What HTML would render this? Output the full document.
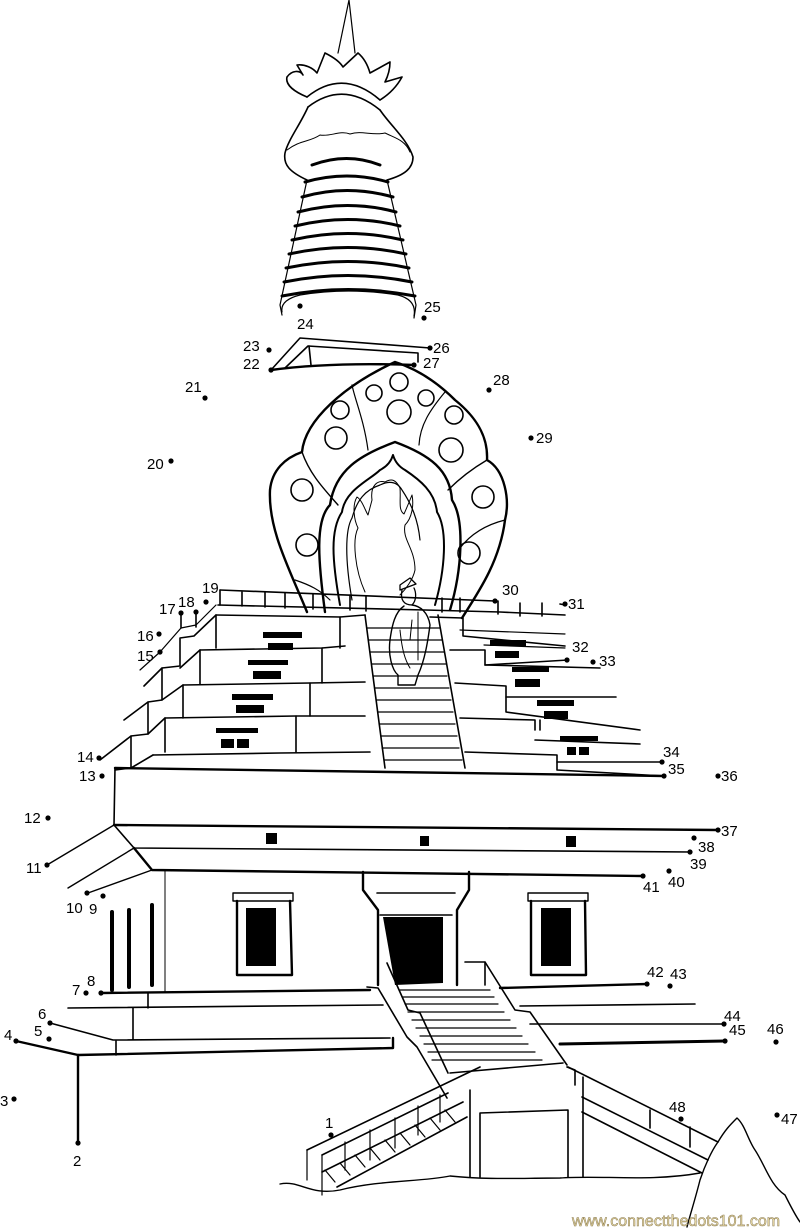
<!DOCTYPE html>
<html><head><meta charset="utf-8"><style>
html,body{margin:0;padding:0;background:#fff}
svg{display:block}
text{font-family:"Liberation Sans",sans-serif;font-size:15px;fill:#000}
</style></head><body>
<svg width="800" height="1230" viewBox="0 0 800 1230" xmlns="http://www.w3.org/2000/svg">
<g fill="none" stroke="#000" stroke-width="1.6" stroke-linejoin="round" stroke-linecap="round">
<!-- spire -->
<path d="M338,53 L349,0 L355,53" stroke-width="1.2"/>
<path d="M307,97 C295,92 285,85 287,77 C292,70 300,70 303,75 L297,65 C305,64 313,68 317,73 L325,53 C333,57 340,62 343,67 L358,53 C364,58 368,66 370,73 L390,62 C390,70 388,76 385,82 L402,77 C396,88 388,95 380,100"/>
<path d="M307,97 Q343,68 380,100"/>
<path d="M308,107 Q343,80 380,110"/>
<path d="M308,107 C300,125 288,140 285,153 C283,165 290,172 307,180"/>
<path d="M380,110 C390,125 408,140 413,157 C413,168 405,175 387,180"/>
<path d="M287,150 C300,140 310,142 320,135 C330,137 340,130 350,134 C362,130 372,136 385,133 C395,138 405,140 410,152" stroke-width="1"/>
<!-- cone -->
<path d="M307,180 L280,305 L282,315" stroke-width="1.2"/>
<path d="M387,180 L416,305 L414,318" stroke-width="1.2"/>
<g stroke-width="3">
<path d="M312,165 Q347,152 380,165"/>
<path d="M305,182 Q347,170 388,182"/>
<path d="M302,197 Q347,184 393,197"/>
<path d="M298,212 Q348,199 396,212"/>
<path d="M295,226 Q348,213 400,226"/>
<path d="M292,240 Q348,227 403,240"/>
<path d="M289,254 Q348,241 406,254"/>
<path d="M286,268 Q348,255 409,268"/>
<path d="M284,282 Q348,269 412,282"/>
<path d="M282,296 Q348,283 415,296"/>
</g>
<path d="M282,312 Q280,300 300,295 Q348,287 398,295 Q417,300 414,316" stroke-width="1.2"/>
<!-- platform 22-27 -->
<path d="M271,370 L300,338 L430,348"/>
<path d="M285,368 L308,346 L418,353 L418,362"/>
<path d="M309,346 L311,365"/>
<path d="M271,370 Q330,362 414,365" stroke-width="2.4"/>
<!-- dome -->
<path d="M307,612 C290,570 268,530 270,490 C272,470 285,458 302,452 C305,420 345,385 395,362 C420,370 440,385 455,400 C480,420 488,440 487,460 C505,470 510,500 505,520 C500,560 480,590 462,618" stroke-width="2.4"/>
<path d="M302,452 C310,475 325,490 338,505" stroke-width="1.4"/>
<path d="M487,460 C470,470 458,480 448,490" stroke-width="1.4"/>
<path d="M352,385 C355,400 364,420 368,450" stroke-width="1.2"/>
<path d="M445,392 C430,410 420,425 419,445" stroke-width="1.2"/>
<path d="M295,580 C310,585 320,590 330,600" stroke-width="1.2"/>
<path d="M505,520 C485,525 470,535 460,548" stroke-width="1.2"/>
<!-- niche arches -->
<path d="M325,612 C318,560 315,520 330,505 C335,470 360,455 395,442 C430,455 450,470 452,500 C465,520 462,570 450,610" stroke-width="2.4"/>
<path d="M340,605 C332,560 330,530 342,512 C345,490 370,480 380,470 Q390,465 393,455 Q396,465 405,470 C420,480 435,492 437,512 C448,530 445,570 435,605" stroke-width="2"/>
<path d="M352,600 C345,560 345,530 352,518 C357,500 365,490 380,485 Q395,478 402,490 C412,505 418,520 420,540" stroke-width="1.2"/>
<!-- buddha -->
<path d="M365,592 C355,570 352,540 358,528 C354,520 352,505 357,497 C362,500 365,510 368,515 L372,500 C370,485 378,480 385,482 C392,478 396,480 400,488 C401,500 398,510 404,514 C408,505 410,500 412,495 C414,505 412,518 405,525 C402,540 415,548 415,570 C413,580 405,590 400,595" stroke-width="1"/>
<!-- monk -->
<path d="M400,585 L410,578 L416,584 L400,590 Z M402,590 C400,600 404,605 412,605 C417,600 416,592 414,588" stroke-width="1.3"/>
<path d="M404,606 C395,612 392,625 390,640 C388,655 392,670 398,675 L398,685 L415,685 L418,675 C425,660 428,640 430,625 C428,612 420,606 412,605" stroke-width="1.4"/>
<path d="M412,620 L410,640 M418,612 L418,660 M400,630 C402,650 405,660 410,668" stroke-width="1"/>
<!-- terrace top railing -->
<path d="M220,590 L495,601 M560,604 L565,605"/>
<path d="M218,605 L425,610 L500,612 L565,615" />
<path d="M220,590 L220,605 M242,592 L242,606 M265,592 L265,607 M285,593 L285,608 M313,594 L313,609 M350,595 L350,610 M366,596 L366,611 M442,598 L442,612 M460,598 L460,612 M498,601 L498,614 M520,603 L520,616 M542,603 L542,616"/>
<path d="M460,630 L565,634 M484,645 L565,648" stroke-width="1.2"/>
<!-- left tiers -->
<path d="M216,615 L340,617 L365,615"/>
<path d="M216,615 L216,648 M200,650 L322,648 L345,646"/>
<path d="M200,650 L200,684 M183,685 L310,683 L365,682"/>
<path d="M183,685 L183,718 M165,718 L296,716 L365,716"/>
<path d="M165,718 L165,752 M153,755 L280,753 L370,752"/>
<path d="M216,605 L196,625 L181,628 L160,652 L140,670" stroke-width="1.2"/>
<path d="M216,615 L194,636 L180,638 L180,666 L162,668 L144,686" />
<path d="M200,650 L180,668 M162,668 L162,700 L148,702 L124,720"/>
<path d="M183,685 L162,700 M148,702 L148,734 L131,736 L100,760"/>
<path d="M165,718 L148,734 M131,736 L131,768 L115,770"/>
<path d="M153,755 L131,768"/>
<path d="M181,613 L181,628 M196,612 L196,627"/>
<path d="M340,617 L340,648 M322,648 L322,683 M310,683 L310,716 M296,716 L296,752"/>
<!-- right tiers -->
<path d="M430,617 L463,618 L463,636 L565,646"/>
<path d="M450,650 L485,650 L485,665 L568,660 "/>
<path d="M485,665 L600,668 M455,683 L506,686 L506,697 L616,697"/>
<path d="M506,697 L506,712 L640,730 M460,718 L535,720 L535,730 M535,740 L640,744"/>
<path d="M465,752 L557,755 L557,762 L662,762"/>
<path d="M557,762 L557,770 L664,776"/>
<path d="M540,730 L540,720" />
<!-- center stairs -->
<path d="M365,615 L385,768 M438,615 L465,768" />
<g stroke-width="1.2">
<path d="M367,628 L440,628 M369,640 L442,640 M370,652 L444,652 M372,664 L446,664 M373,676 L447,676 M375,688 L449,688 M376,700 L451,700 M378,712 L453,712 M379,724 L455,724 M381,736 L457,736 M382,748 L459,748 M384,760 L462,760"/>
</g>
<!-- main block -->
<path d="M115,768 L665,776" stroke-width="2.4"/>
<path d="M115,768 L114,825"/>
<path d="M114,825 L718,830" stroke-width="2.4"/>
<path d="M114,825 L134,848 L690,852"/>
<path d="M134,848 L152,870 L643,876" stroke-width="2.4"/>
<path d="M114,825 L47,865 M134,848 L68,888 M152,870 L88,893" stroke-width="1.4"/>
<path d="M165,870 L165,992" stroke-width="1"/>
<!-- bars -->
<path d="M112,912 L112,990 M129,910 L129,987 M152,905 L152,985" stroke-width="4"/>
<!-- windows -->
<rect x="233" y="893" width="60" height="8" stroke-width="1.4"/>
<path d="M237,901 L237,975 L292,975 L290,901" stroke-width="2.4"/>
<rect x="528" y="893" width="60" height="8" stroke-width="1.4"/>
<path d="M531,901 L531,975 L586,975 L585,901" stroke-width="2.4"/>
<!-- door -->
<path d="M363,872 L363,890 L378,910 L378,985 M469,872 L469,890 L457,910 L457,985" stroke-width="2.4"/>
<path d="M377,893 L455,893"/>
<path d="M380,915 L452,915"/>
<!-- base -->
<path d="M101,993 L370,990" stroke-width="2.4"/>
<path d="M68,1008 L383,1005 M148,993 L148,1008"/>
<path d="M50,1023 L113,1040 L390,1038 M133,1008 L133,1040"/>
<path d="M16,1041 L78,1055 L393,1048 M393,1038 L393,1048" stroke-width="2.4"/>
<path d="M116,1041 L116,1055"/>
<path d="M78,1055 L78,1143" stroke-width="2.4"/>
<path d="M500,988 L647,984" stroke-width="2.4"/>
<path d="M520,1006 L695,1004 M530,1024 L724,1024"/>
<path d="M560,1044 L725,1041" stroke-width="3"/>
<!-- central stairs -->
<path d="M387,963 L408,1010 L420,1013 L448,1073" />
<path d="M367,987 L378,988 L407,1037 L417,1047 L447,1098" />
<path d="M465,962 L485,962 L515,1010 L530,1012 L567,1065"/>
<path d="M485,962 L485,985"/>
<g stroke-width="1.2">
<path d="M400,990 L490,990 M402,997 L494,997 M405,1004 L498,1004 M408,1012 L504,1012 M412,1020 L510,1020 M416,1028 L516,1028 M420,1036 L522,1036 M424,1044 L528,1044 M428,1052 L535,1052 M432,1060 L542,1060"/>
</g>
<path d="M450,1073 L563,1063"/>
<!-- lower left stair -->
<path d="M307,1150 L480,1067 M322,1155 L448,1093 M337,1187 L467,1117 M322,1172 L463,1102"/>
<path d="M307,1150 L307,1180 M322,1155 L322,1195 M345,1142 L345,1170 M370,1130 L370,1160 M395,1118 L395,1148 M418,1106 L418,1135 M440,1095 L440,1122" stroke-width="1.2"/>
<g stroke-width="1.2"><path d="M325,1170 L335,1182 M340,1163 L350,1175 M355,1155 L365,1167 M370,1148 L380,1160 M385,1140 L395,1152 M400,1133 L410,1145 M415,1125 L425,1137 M430,1118 L440,1130 M445,1110 L455,1122"/></g>
<path d="M470,1090 L470,1177 M480,1113 L568,1110 M480,1113 L480,1177 M568,1110 L568,1177 M583,1077 L583,1177 M567,1067 L575,1070 L575,1085"/>
<!-- right slope -->
<path d="M568,1067 L718,1142" stroke-width="1.6"/>
<path d="M582,1097 L708,1160 M582,1112 L702,1173"/>
<path d="M650,1110 L650,1128 M690,1127 L690,1147"/>
<!-- ground -->
<path d="M280,1184 C300,1180 310,1196 340,1190 C380,1180 420,1182 450,1176 C490,1180 520,1178 560,1178 C600,1175 650,1182 700,1173" stroke-width="1.4"/>
<!-- mountain -->
<path d="M687,1227 C690,1215 695,1200 700,1180 C705,1165 712,1150 718,1142 C725,1130 730,1125 737,1118 C745,1125 748,1140 755,1150 C765,1165 770,1185 785,1195 C790,1205 795,1215 800,1222" stroke-width="1.4"/>
</g>
<!-- circles -->
<g fill="none" stroke="#000" stroke-width="1.6">
<circle cx="340" cy="410" r="9"/><circle cx="336" cy="438" r="11"/><circle cx="374" cy="393" r="8"/>
<circle cx="399" cy="382" r="9"/><circle cx="399" cy="412" r="12"/><circle cx="426" cy="398" r="8"/>
<circle cx="454" cy="415" r="9"/><circle cx="451" cy="450" r="12"/><circle cx="302" cy="490" r="11"/>
<circle cx="483" cy="497" r="11"/><circle cx="307" cy="545" r="11"/><circle cx="469" cy="553" r="11"/>
</g>
<!-- black fills -->
<g fill="#000">
<rect x="263" y="632" width="39" height="6"/><rect x="268" y="643" width="25" height="7"/>
<rect x="248" y="660" width="40" height="5"/><rect x="253" y="671" width="28" height="8"/>
<rect x="232" y="694" width="41" height="6"/><rect x="236" y="705" width="28" height="8"/>
<rect x="216" y="728" width="42" height="5"/><rect x="221" y="739" width="13" height="9"/><rect x="237" y="739" width="12" height="9"/>
<rect x="490" y="640" width="36" height="6"/><rect x="495" y="651" width="24" height="7"/>
<rect x="512" y="667" width="37" height="5"/><rect x="515" y="679" width="25" height="8"/>
<rect x="537" y="700" width="37" height="6"/><rect x="544" y="711" width="24" height="8"/>
<rect x="560" y="736" width="38" height="5"/><rect x="567" y="747" width="9" height="8"/><rect x="579" y="747" width="10" height="8"/>
<rect x="266" y="833" width="11" height="11"/><rect x="420" y="836" width="9" height="10"/><rect x="566" y="836" width="10" height="11"/>
<rect x="246" y="908" width="30" height="58"/><rect x="541" y="908" width="30" height="58"/>
<path d="M383,917 L443,917 L443,983 L395,985 Z"/>
</g>
<!-- dots -->
<g fill="#000">
<circle cx="331" cy="1135" r="2.6"/><circle cx="78" cy="1143" r="2.6"/><circle cx="14" cy="1099" r="2.6"/>
<circle cx="16" cy="1041" r="2.6"/><circle cx="49" cy="1039" r="2.6"/><circle cx="50" cy="1023" r="2.6"/>
<circle cx="86" cy="993" r="2.6"/><circle cx="101" cy="993" r="2.6"/><circle cx="103" cy="896" r="2.6"/>
<circle cx="87" cy="893" r="2.6"/><circle cx="47" cy="865" r="2.6"/><circle cx="48" cy="818" r="2.6"/>
<circle cx="102" cy="776" r="2.6"/><circle cx="99" cy="758" r="2.6"/><circle cx="160" cy="652" r="2.6"/>
<circle cx="159" cy="634" r="2.6"/><circle cx="181" cy="613" r="2.6"/><circle cx="196" cy="612" r="2.6"/>
<circle cx="206" cy="602" r="2.6"/><circle cx="171" cy="461" r="2.6"/><circle cx="205" cy="398" r="2.6"/>
<circle cx="271" cy="370" r="2.6"/><circle cx="269" cy="350" r="2.6"/><circle cx="300" cy="306" r="2.6"/>
<circle cx="424" cy="318" r="2.6"/><circle cx="430" cy="348" r="2.6"/><circle cx="414" cy="365" r="2.6"/>
<circle cx="489" cy="390" r="2.6"/><circle cx="531" cy="438" r="2.6"/><circle cx="495" cy="601" r="2.6"/>
<circle cx="565" cy="604" r="2.6"/><circle cx="567" cy="660" r="2.6"/><circle cx="593" cy="662" r="2.6"/>
<circle cx="662" cy="762" r="2.6"/><circle cx="664" cy="776" r="2.6"/><circle cx="718" cy="776" r="2.6"/>
<circle cx="718" cy="830" r="2.6"/><circle cx="694" cy="838" r="2.6"/><circle cx="690" cy="852" r="2.6"/>
<circle cx="669" cy="871" r="2.6"/><circle cx="643" cy="876" r="2.6"/><circle cx="647" cy="984" r="2.6"/>
<circle cx="670" cy="986" r="2.6"/><circle cx="724" cy="1024" r="2.6"/><circle cx="725" cy="1041" r="2.6"/>
<circle cx="776" cy="1042" r="2.6"/><circle cx="777" cy="1115" r="2.6"/><circle cx="681" cy="1119" r="2.6"/>
</g>
<g>
<text x="325" y="1128">1</text><text x="73" y="1166">2</text><text x="0" y="1106">3</text>
<text x="4" y="1040">4</text><text x="34" y="1036">5</text><text x="38" y="1019">6</text>
<text x="72" y="995">7</text><text x="87" y="986">8</text><text x="89" y="914">9</text>
<text x="66" y="913">10</text><text x="26" y="873">11</text><text x="24" y="823">12</text>
<text x="79" y="781">13</text><text x="77" y="762">14</text><text x="137" y="661">15</text>
<text x="137" y="641">16</text><text x="159" y="614">17</text><text x="178" y="607">18</text>
<text x="202" y="593">19</text><text x="147" y="469">20</text><text x="185" y="392">21</text>
<text x="243" y="369">22</text><text x="243" y="351">23</text><text x="297" y="329">24</text>
<text x="424" y="312">25</text><text x="433" y="353">26</text><text x="423" y="368">27</text>
<text x="493" y="385">28</text><text x="536" y="443">29</text><text x="502" y="595">30</text>
<text x="568" y="609">31</text><text x="572" y="652">32</text><text x="599" y="666">33</text>
<text x="663" y="757">34</text><text x="668" y="774">35</text><text x="721" y="781">36</text>
<text x="721" y="836">37</text><text x="698" y="852">38</text><text x="690" y="869">39</text>
<text x="668" y="887">40</text><text x="643" y="892">41</text><text x="647" y="977">42</text>
<text x="670" y="979">43</text><text x="724" y="1021">44</text><text x="729" y="1035">45</text>
<text x="767" y="1034">46</text><text x="781" y="1124">47</text><text x="669" y="1112">48</text>
</g>
<text x="572" y="1226" style="font-size:16px;fill:#eadca8;stroke:#8a7a50;stroke-width:0.5">www.connectthedots101.com</text>
</svg>
</body></html>
